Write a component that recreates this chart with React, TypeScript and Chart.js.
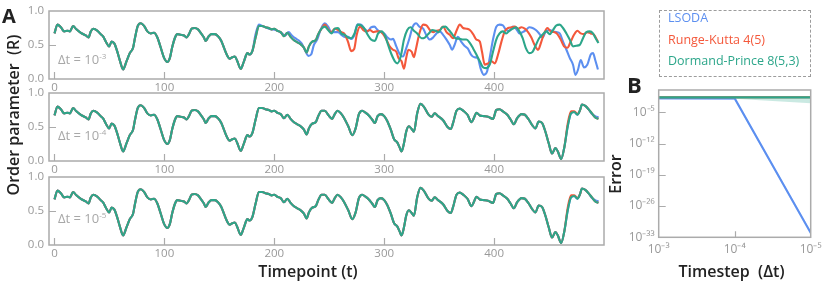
import React, { useEffect, useRef } from 'react';
import { Chart, registerables } from 'chart.js';
Chart.register(...registerables);
Chart.defaults.font.family = "'Open Sans', sans-serif";

// ---------- DATA ----------
const timeTicks = [0, 100, 200, 300, 400];
const rTicks = [0, 0.5, 1];
const seriesNames = ['LSODA', 'Runge-Kutta 4(5)', 'Dormand-Prince 8(5,3)'];
const stepLabels = ['\u0394t = 10', '\u0394t = 10', '\u0394t = 10'];
const stepExps = ['-3', '-4', '-5'];

// shared trajectory (t, R)
const baseCurve: [number, number][] = [
  [0,0.67],[2.7,0.80],[5.8,0.76],[8.8,0.70],[11.8,0.71],[14,0.70],[17,0.78],[19.4,0.74],[24,0.68],[28.5,0.64],
  [31,0.61],[33,0.70],[35.5,0.74],[39,0.71],[42,0.66],[44.5,0.62],[47,0.54],[49.7,0.48],[52,0.55],[54.5,0.52],
  [57,0.41],[59.7,0.26],[62.4,0.14],[65.5,0.26],[68.5,0.38],[71.5,0.46],[73.3,0.61],[75.8,0.78],[78.5,0.82],[81.5,0.78],
  [84.5,0.70],[87.6,0.67],[90.6,0.68],[93.6,0.61],[96.7,0.46],[99.7,0.31],[102.7,0.25],[105,0.31],[107,0.46],[109.7,0.61],
  [111.8,0.66],[114.8,0.65],[117.9,0.64],[120,0.61],[122.4,0.66],[124.8,0.74],[127.6,0.75],[130.6,0.73],[133,0.68],[136,0.61],
  [137.6,0.56],[140,0.62],[142.7,0.66],[145.8,0.66],[148.8,0.63],[151.8,0.56],[154.2,0.46],[156.7,0.36],[159.4,0.30],[161.8,0.32],
  [164.2,0.33],[166.4,0.26],[169.4,0.15],[172.4,0.26],[175.5,0.38],[177.6,0.36],[180,0.41],[183,0.61],[186,0.78],[189,0.78],
  [192,0.76],[195,0.75],[197.6,0.73],[200,0.74],[202.7,0.71],[205.8,0.69],[208.8,0.63],[211.8,0.68],[214.8,0.62],[217.9,0.57],
  [220.9,0.54],[224,0.51],[227,0.46],[229.4,0.39],[231.5,0.48],[234.5,0.55],[237.6,0.57],[240,0.66],[243,0.74],[246,0.74],
  [249,0.68],[252.7,0.62],[255,0.69],[257.6,0.74],[260.6,0.70],[263.6,0.63],[267.3,0.51],[271,0.38],[274,0.48],[277,0.69],
  [280,0.74],[283,0.71],[286,0.67],[289,0.61],[291.5,0.56],[294,0.66],[297,0.69],[300,0.66],[303,0.58],[306,0.46],
  [309,0.32],[312,0.27],[314,0.20],[315.8,0.14],[318,0.26],[320,0.43],[322.4,0.51],[325,0.47],[327,0.43],[330,0.70],
  [333,0.84],[336,0.80],[340,0.69],[343,0.65],[346,0.70],[349,0.66],[353.6,0.60],[357.6,0.50],[360.6,0.47],[362.7,0.56],
  [365.8,0.74],[368.8,0.77],[371.8,0.74],[375.8,0.68],[379.4,0.57],[381.8,0.64],[384,0.71],[387,0.67],[391,0.66],[394.5,0.65],
  [399,0.62],[402,0.75],[405,0.76],[408,0.73],[412,0.68],[415,0.61],[418,0.54],[421,0.63],[425,0.69],[428,0.68],
  [431.5,0.61],[434.5,0.53],[437.6,0.48],[440.6,0.58],[443.6,0.56],[446.7,0.43],[449.7,0.26],[452.7,0.11],[455.8,0.19],[458,0.14],
  [461,0.03],[464,0.21],[467,0.51],[470,0.70],[473,0.72],[475.8,0.68],[478,0.74],[480,0.83],[483,0.81],[486,0.76],
  [489,0.70],[492,0.64],[495,0.62],
];

// panel dt=1e-3 divergent tails
const p1GreenTail: [number, number][] = [
  [246,0.77],[249,0.72],[252,0.67],[255,0.74],[258,0.75],[261,0.67],[264,0.65],[267,0.61],[270,0.60],[273,0.67],
  [276,0.80],[279,0.79],[282,0.74],[285,0.65],[288,0.58],[291.5,0.56],[294.5,0.67],[297.6,0.70],[300.6,0.64],[303.6,0.50],
  [306.7,0.36],[309.7,0.26],[312,0.23],[315,0.33],[318,0.58],[321,0.72],[324,0.76],[327,0.71],[330,0.67],[334,0.60],
  [337,0.61],[340.6,0.67],[343.6,0.72],[346.7,0.71],[349.7,0.69],[352.7,0.76],[355.8,0.77],[358.8,0.72],[361.8,0.66],[364.8,0.60],
  [368.8,0.59],[371.8,0.58],[374.8,0.58],[377.9,0.53],[380.9,0.45],[383.9,0.36],[387,0.26],[390,0.17],[393,0.16],[396,0.21],
  [399,0.40],[402,0.58],[405,0.67],[408,0.70],[411,0.67],[414,0.71],[417,0.74],[420,0.76],[423,0.70],[426,0.60],
  [429,0.45],[432,0.38],[435,0.40],[438,0.50],[441,0.60],[444,0.65],[447.6,0.70],[450.6,0.66],[453.6,0.72],[456.7,0.79],
  [459.7,0.80],[462.7,0.75],[465.8,0.67],[468.8,0.58],[471.8,0.48],[474.8,0.49],[477.9,0.50],[480.9,0.60],[483.9,0.69],[487,0.70],
  [490,0.67],[493,0.58],[495,0.53],
];
const p1RedTail: [number, number][] = [
  [246,0.80],[249,0.73],[252,0.69],[255,0.74],[258,0.72],[261,0.69],[264,0.66],[267,0.55],[270,0.41],[272.7,0.44],
  [275,0.65],[278,0.77],[281,0.72],[284,0.70],[287,0.72],[290,0.69],[293,0.70],[296,0.70],[299,0.66],[302,0.58],
  [305,0.48],[308,0.43],[311,0.40],[313,0.31],[315.8,0.26],[318,0.15],[320,0.31],[322,0.43],[325,0.40],[327,0.32],
  [329,0.45],[332,0.67],[335.5,0.80],[338.5,0.79],[341.5,0.72],[344.5,0.69],[347.6,0.71],[350.6,0.72],[353.6,0.77],[356.7,0.69],
  [359.7,0.65],[362.7,0.60],[365.8,0.71],[368.8,0.80],[371.8,0.75],[374.8,0.74],[377.9,0.72],[380.9,0.66],[383.9,0.58],[387,0.55],
  [389,0.40],[391.5,0.21],[394.5,0.23],[397.6,0.26],[400.6,0.23],[403.6,0.36],[406.7,0.55],[409.7,0.70],[412.7,0.75],[415.8,0.76],
  [418.8,0.77],[421.8,0.74],[424.8,0.76],[427.9,0.74],[430.9,0.69],[433.9,0.61],[436.9,0.50],[440,0.43],[443,0.55],[445.5,0.67],
  [448.5,0.75],[451.5,0.70],[454.5,0.69],[457.6,0.66],[460.6,0.58],[463.6,0.48],[466.7,0.46],[469.7,0.55],[472.7,0.65],[475.8,0.71],
  [478.8,0.67],[481.8,0.66],[484.8,0.69],[487.9,0.67],[490.9,0.65],[494.5,0.55],
];
const p1BlueTail: [number, number][] = [
  [183,0.66],[186,0.80],[189,0.78],[192,0.76],[195,0.74],[198,0.73],[201,0.72],[204,0.70],[207,0.67],[210,0.64],
  [213,0.69],[216,0.64],[219,0.60],[222,0.57],[225,0.52],[228,0.42],[231,0.34],[233.5,0.36],[236,0.50],[239,0.58],
  [242,0.72],[244.5,0.80],
  [246,0.82],[249,0.77],[252,0.69],[255,0.69],[258,0.69],[261,0.65],[264,0.62],[267,0.62],[270,0.59],[273,0.65],
  [275.5,0.80],[278.8,0.80],[282,0.74],[285,0.70],[288,0.76],[291,0.77],[294,0.72],[297,0.69],[300,0.67],[303,0.61],
  [306,0.58],[308,0.59],[311,0.48],[314,0.37],[317,0.33],[320,0.45],[323,0.60],[326,0.77],[329,0.82],[332,0.77],
  [335.5,0.74],[338.5,0.64],[341.5,0.58],[344.5,0.61],[347.6,0.67],[350.6,0.70],[353.6,0.65],[356.7,0.58],[359.7,0.50],[361.8,0.43],
  [364,0.50],[367,0.62],[370,0.55],[373,0.49],[376,0.45],[379,0.36],[382,0.32],[385,0.31],[388,0.14],[390.6,0.06],
  [393.6,0.11],[396,0.31],[399,0.58],[402,0.77],[405,0.80],[408,0.79],[411,0.72],[414,0.71],[417,0.77],[420,0.74],
  [423,0.67],[426,0.69],[429,0.72],[432,0.76],[435,0.75],[438,0.72],[441,0.67],[444,0.61],[447,0.70],[450.6,0.72],
  [453.6,0.70],[456.7,0.69],[459.7,0.67],[462.7,0.55],[465.8,0.43],[468.8,0.31],[471.8,0.21],[474,0.06],[476.4,0.14],[478.8,0.28],
  [481.8,0.17],[484.8,0.21],[487.9,0.36],[490,0.38],[492,0.28],[494.5,0.14],
];
// small end-of-run deviations for dt=1e-4 and dt=1e-5
const fineRedTail: [number, number][] = [[467,0.55],[470,0.73],[473,0.73],[475.8,0.69]];
const fineBlueTail: [number, number][] = [[489,0.69],[492,0.66],[495,0.64]];

// panel B: error vs timestep
const timesteps = [1e-3, 1e-4, 1e-5];
const stepTickVals = [1e-3, 1e-4, 1e-5];
const errTickVals = [1e-33, 1e-26, 1e-19, 1e-12, 1e-5];
const lsodaErr = [1.4e-2, 1.3e-2, 1e-32];
const rkErr = [2.3e-2, 2.3e-2, 2.3e-2];
const dopErr = [2.3e-2, 2.3e-2, 2.3e-2];
const lsodaErrHigh = [2.2e-2, 2.0e-2, 3e-32];
const lsodaErrLow = [6e-3, 6e-3, 3e-33];
const dopErrHigh = [3e-2, 3e-2, 3e-2];
const dopErrLow = [1.5e-2, 1.1e-2, 1.1e-3];

// ---------- STYLE ----------
const BLUE = '#5c8ff0';
const RED = '#f4583b';
const GREEN = '#2ca68a';
const AXIS = '#ababab';
const TICKTXT = '#999999';
const FONT = "'Open Sans', sans-serif";

function splice(base: [number, number][], tail: [number, number][], from: number, to: number) {
  const a = base.filter((p) => p[0] < from);
  const b = base.filter((p) => p[0] > to);
  return [...a, ...tail, ...b].map(([x, y]) => ({ x, y }));
}

const framePlugin = {
  id: 'frame',
  afterDatasetsDraw(chart: any, _args: any, opts: any) {
    const { ctx, chartArea: a } = chart;
    ctx.save();
    ctx.strokeStyle = AXIS;
    ctx.lineWidth = 1.5;
    ctx.strokeRect(a.left, a.top, a.right - a.left, a.bottom - a.top);
    const xs = chart.scales.x, ys = chart.scales.y;
    ctx.lineWidth = 1.2;
    ctx.beginPath();
    (opts.xTicks || []).forEach((v: number) => {
      const px = Math.round(xs.getPixelForValue(v)) + 0.5;
      ctx.moveTo(px, a.bottom);
      ctx.lineTo(px, a.bottom - (opts.xLen || 7));
    });
    (opts.yTicks || []).forEach((v: number) => {
      const py = Math.round(ys.getPixelForValue(v)) + 0.5;
      ctx.moveTo(a.left, py);
      ctx.lineTo(a.left + (opts.yLen || 7), py);
    });
    ctx.stroke();
    ctx.restore();
  },
};

const SUP: Record<string, string> = { '-': '\u207B', '0': '\u2070', '1': '\u00B9', '2': '\u00B2', '3': '\u00B3', '4': '\u2074', '5': '\u2075', '6': '\u2076', '7': '\u2077', '8': '\u2078', '9': '\u2079' };
function powLabel(v: number) {
  const e = Math.round(Math.log10(v));
  return '10' + String(e).split('').map((c) => SUP[c] || c).join('');
}

const noGrid = { display: false, drawTicks: false, tickLength: 0 };

function linePanel(datasets: any[], refEl: HTMLCanvasElement) {
  return new Chart(refEl, {
    type: 'line',
    data: { datasets },
    options: {
      animation: false,
      responsive: false,
      devicePixelRatio: 1,
      parsing: false as any,
      layout: { padding: { left: 0, top: 8, right: 16, bottom: 0 } },
      plugins: {
        legend: { display: false },
        tooltip: { enabled: false },
        frame: { xTicks: timeTicks, yTicks: [0.5], xLen: 7, yLen: 7 },
      } as any,
      elements: { point: { radius: 0 }, line: { borderWidth: 2, cubicInterpolationMode: 'monotone' } },
      scales: {
        x: {
          type: 'linear', min: -5, max: 500,
          grid: noGrid, border: { display: false },
          afterBuildTicks: (s: any) => { s.ticks = timeTicks.map((v) => ({ value: v })); },
          afterFit: (s: any) => { s.height = 20; s.paddingLeft = 0; s.paddingRight = 0; },
          ticks: { padding: 2, color: TICKTXT, font: { size: 11.5, family: FONT }, maxRotation: 0, autoSkip: false, callback: (v: any) => String(v) },
        },
        y: {
          type: 'linear', min: 0, max: 1,
          grid: noGrid, border: { display: false },
          afterBuildTicks: (s: any) => { s.ticks = rTicks.map((v) => ({ value: v })); },
          afterFit: (s: any) => { s.width = 49; s.paddingTop = 0; s.paddingBottom = 0; },
          ticks: { padding: 5, color: TICKTXT, font: { size: 11.5, family: FONT }, callback: (v: any) => Number(v).toFixed(1) },
        },
      },
    } as any,
    plugins: [framePlugin],
  });
}

function mkLine(data: any[], color: string) {
  return { data, borderColor: color, backgroundColor: color, borderWidth: 2.1, pointRadius: 0, fill: false };
}

const panelTops = [11, 93, 177];

function LeftPanel({ idx }: { idx: number }) {
  const ref = useRef<HTMLCanvasElement>(null);
  useEffect(() => {
    let datasets;
    if (idx === 0) {
      datasets = [
        mkLine(splice(baseCurve, p1GreenTail, 244, 999), GREEN),
        mkLine(splice(baseCurve, p1RedTail, 244, 999), RED),
        mkLine(splice(baseCurve, p1BlueTail, 181, 999), BLUE),
      ];
    } else {
      datasets = [
        mkLine(splice(baseCurve, [], 999, 999), GREEN),
        mkLine(splice(baseCurve, fineRedTail, 466, 476), RED),
        mkLine(splice(baseCurve, fineBlueTail, 488, 999), BLUE),
      ];
    }
    const c = linePanel(datasets, ref.current!);
    return () => c.destroy();
  }, [idx]);
  return (
    <canvas ref={ref} width={620} height={96}
      style={{ position: 'absolute', left: 0, top: panelTops[idx] - 8, width: 620, height: 96 }} />
  );
}

function ErrorPanel() {
  const ref = useRef<HTMLCanvasElement>(null);
  useEffect(() => {
    const pts = (ys: number[]) => timesteps.map((x, i) => ({ x, y: ys[i] }));
    const band = (ys: number[], color: string, fill: any) => ({
      data: pts(ys), borderWidth: 0, borderColor: 'rgba(0,0,0,0)', backgroundColor: color, pointRadius: 0, fill,
    });
    const c = new Chart(ref.current!, {
      type: 'line',
      data: {
        datasets: [
          { ...mkLine(pts(dopErr), GREEN), label: seriesNames[2], borderWidth: 2.2 },
          { ...mkLine(pts(rkErr), RED), label: seriesNames[1] },
          { ...mkLine(pts(lsodaErr), BLUE), label: seriesNames[0] },
          band(dopErrHigh, 'rgba(44,166,138,0.25)', '+1'),
          band(dopErrLow, 'rgba(44,166,138,0.25)', false),
          band(lsodaErrHigh, 'rgba(92,143,240,0.25)', '+1'),
          band(lsodaErrLow, 'rgba(92,143,240,0.25)', false),
        ],
      },
      options: {
        animation: false,
        responsive: false,
        devicePixelRatio: 1,
        parsing: false as any,
        layout: { padding: { left: 0, top: 8, right: 19.3, bottom: 0 } },
        plugins: {
          legend: { display: false },
          tooltip: { enabled: false },
          frame: { xTicks: [1e-4], yTicks: [1e-5, 1e-12, 1e-19, 1e-26], xLen: 6, yLen: 7 },
        } as any,
        elements: { point: { radius: 0 }, line: { tension: 0 } },
        scales: {
          x: {
            type: 'logarithmic', min: 1e-5, max: 1e-3, reverse: true,
            grid: noGrid, border: { display: false },
            afterBuildTicks: (s: any) => { s.ticks = stepTickVals.map((v) => ({ value: v })); },
            afterFit: (s: any) => { s.height = 29.7; s.paddingLeft = 0; s.paddingRight = 0; },
            ticks: { padding: 5, color: TICKTXT, font: { size: 12, family: FONT }, maxRotation: 0, autoSkip: false, callback: (v: any) => powLabel(Number(v)) },
          },
          y: {
            type: 'logarithmic', min: 1e-33, max: 1,
            grid: noGrid, border: { display: false },
            afterBuildTicks: (s: any) => { s.ticks = errTickVals.map((v) => ({ value: v })); },
            afterFit: (s: any) => { s.width = 58.7; s.paddingTop = 0; s.paddingBottom = 0; },
            ticks: { padding: 4, color: TICKTXT, font: { size: 12, family: FONT }, autoSkip: false, callback: (v: any) => powLabel(Number(v)) },
          },
        },
      } as any,
      plugins: [framePlugin],
    });
    return () => c.destroy();
  }, []);
  return (
    <canvas ref={ref} width={230} height={185}
      style={{ position: 'absolute', left: 600, top: 82, width: 230, height: 185 }} />
  );
}

// place text by baseline (Open Sans, line-height = font size)
function Txt({ x, base, size, weight = 400, color = '#222', children, anchor = 'left' }: any) {
  const top = base - 0.888 * size;
  const style: any = {
    position: 'absolute', top, fontSize: size, lineHeight: size + 'px', fontWeight: weight, color,
    whiteSpace: 'pre', fontFamily: FONT,
  };
  style.left = x;
  if (anchor === 'center') style.transform = 'translateX(-50%)';
  return <div style={style}>{children}</div>;
}

function VTxt({ cx, cy, size, weight = 600, children }: any) {
  return (
    <div style={{
      position: 'absolute', left: cx, top: cy, fontSize: size, lineHeight: size + 'px', fontWeight: weight,
      color: '#222', whiteSpace: 'pre', fontFamily: FONT, transform: 'translate(-50%, -50%) rotate(-90deg)',
    }}>{children}</div>
  );
}

const stepLabelBase = [64.8, 141, 223.5];

export default function App() {
  return (
    <div style={{ position: 'absolute', left: 0, top: 0, width: 830, height: 287, background: '#fff', overflow: 'hidden', fontFamily: FONT }}>
      <LeftPanel idx={0} />
      <LeftPanel idx={1} />
      <LeftPanel idx={2} />
      <ErrorPanel />
      {stepLabels.map((s, i) => (
        <Txt key={i} x={58} base={stepLabelBase[i]} size={13} color="#a8a8a8">
          {s}<span style={{ fontSize: 8, position: 'relative', top: -5 }}>{stepExps[i]}</span>
        </Txt>
      ))}
      <Txt x={2} base={24} size={20} weight={700}>A</Txt>
      <Txt x={627} base={93} size={22} weight={700}>B</Txt>
      <VTxt cx={13} cy={115} size={16}>{'Order parameter  (R)'}</VTxt>
      <Txt x={308} base={277} size={16} weight={600} anchor="center">Timepoint (t)</Txt>
      <VTxt cx={615} cy={174} size={16}>Error</VTxt>
      <Txt x={731.5} base={277.5} size={16} weight={600} anchor="center">{'Timestep  (\u0394t)'}</Txt>
      <div style={{ position: 'absolute', left: 659, top: 10, width: 152, height: 67, border: '1.5px dashed #9c9c9c', boxSizing: 'border-box' }} />
      <Txt x={668} base={22.7} size={12.5} color={BLUE}>{seriesNames[0]}</Txt>
      <Txt x={668} base={44.7} size={12.5} color={RED}>{seriesNames[1]}</Txt>
      <Txt x={668} base={66.2} size={12.5} color={GREEN}>{seriesNames[2]}</Txt>
    </div>
  );
}
